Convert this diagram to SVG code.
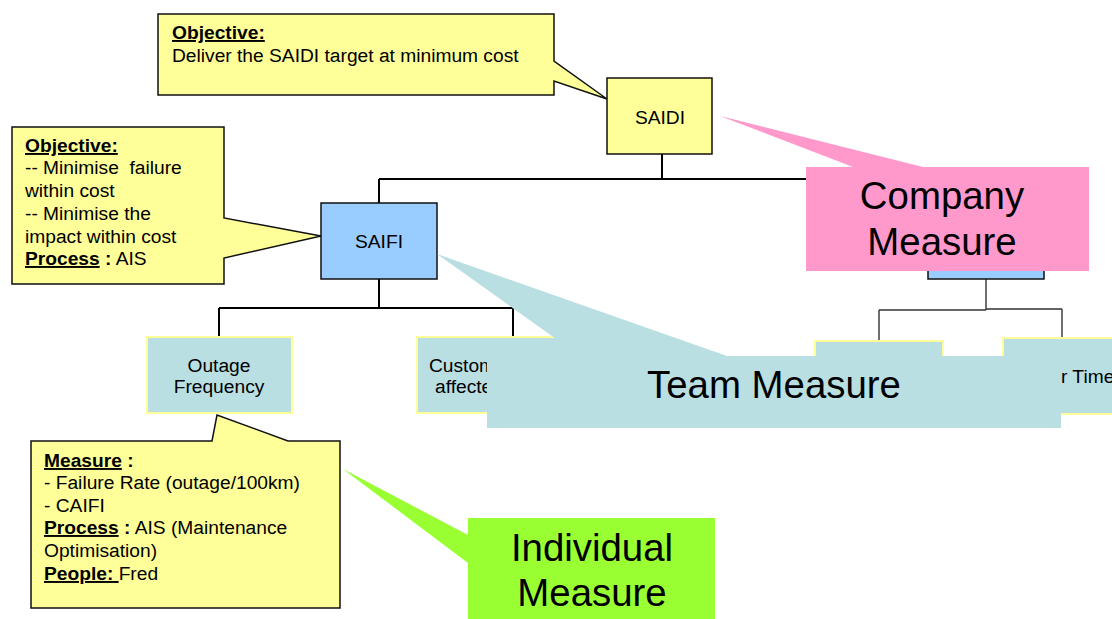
<svg xmlns="http://www.w3.org/2000/svg" width="1112" height="619" viewBox="0 0 1112 619">
<style>
text{font-family:"Liberation Sans",Arial,sans-serif;font-size:19.2px;fill:#000}
.b{font-weight:bold}
.u{text-decoration:underline}
.big{font-size:38.4px}
.conn{fill:none;stroke:#000;stroke-width:2}
.conn2{fill:none;stroke:#333;stroke-width:1.4}
.yel{fill:#FFFF99;stroke:#111;stroke-width:1.5}
.blue{fill:#99CCFF;stroke:#111;stroke-width:1.5}
.cyan{fill:#B9DFE3;stroke:#FFFF99;stroke-width:2}
</style>
<rect width="1112" height="619" fill="#fff"/>
<g id="connectors">
<path class="conn" d="M662,154V179M379,179H986M379,179V203M986,179V203"/>
<path class="conn" d="M379,279V308M219,308H513M219,308V337M513,308V337"/>
<path class="conn2" d="M986,279V310M879,310H986M986,309H1062M879,310V341M1062,309V338"/>
</g>
<g id="node-saidi"><rect class="yel" x="607" y="78" width="105" height="76"/><text x="660" y="124" text-anchor="middle">SAIDI</text></g>
<g id="node-saifi"><rect class="blue" x="321" y="203" width="116" height="76"/><text x="379" y="248" text-anchor="middle">SAIFI</text></g>
<g id="node-right"><rect class="blue" x="928" y="203" width="116" height="76"/></g>
<g id="node-outage"><rect class="cyan" x="147" y="337" width="145" height="76"/><text x="219" y="372" text-anchor="middle">Outage</text><text x="219" y="393" text-anchor="middle">Frequency</text></g>
<g id="node-customer"><rect class="cyan" x="417" y="337" width="192" height="76"/><text x="429" y="372">Custom</text><text x="435" y="393">affecte</text></g>
<g id="node-right-a"><rect class="cyan" x="815" y="341" width="128" height="76"/></g>
<g id="node-right-b"><rect class="cyan" x="1003" y="338" width="130" height="76"/><text x="1061" y="383">r Time</text></g>
<g id="callout-top">
<path class="yel" d="M158,14H554V61L607,99L554,81V95H158Z"/>
<text x="172" y="39" class="b u">Objective:</text>
<text x="172" y="62">Deliver the SAIDI target at minimum cost</text>
</g>
<g id="callout-left">
<path class="yel" d="M12,127H224V218L321,236L224,258V284H12Z"/>
<text x="25" y="152" class="b u">Objective:</text>
<text x="25" y="174" xml:space="preserve">-- Minimise  failure</text>
<text x="25" y="197">within cost</text>
<text x="25" y="220">-- Minimise the</text>
<text x="25" y="243">impact within cost</text>
<text x="25" y="265"><tspan class="b u">Process</tspan><tspan class="b"> :</tspan> AIS</text>
</g>
<g id="callout-bottom">
<path class="yel" d="M31,441H212L217,415L288,441H340V608H31Z"/>
<text x="44" y="467"><tspan class="b u">Measure</tspan><tspan class="b"> :</tspan></text>
<text x="44" y="489">- Failure Rate (outage/100km)</text>
<text x="44" y="512">- CAIFI</text>
<text x="44" y="534"><tspan class="b u">Process</tspan><tspan class="b"> :</tspan> AIS (Maintenance</text>
<text x="44" y="557">Optimisation)</text>
<text x="44" y="580" xml:space="preserve"><tspan class="b u">People: </tspan>Fred</text>
</g>
<g id="label-team">
<path fill="#B9DFE3" d="M437,254L727,356H1061V428H487V356H580Z"/>
<text x="774" y="398" class="big" text-anchor="middle">Team Measure</text>
</g>
<g id="label-company">
<path fill="#FF99CC" d="M720,116L853,167H806V271H1089V167H923Z"/>
<text x="942" y="209" class="big" text-anchor="middle">Company</text>
<text x="942" y="255" class="big" text-anchor="middle">Measure</text>
</g>
<g id="label-individual">
<path fill="#99FF33" d="M343,469L468,535V518H715V622H468V563Z"/>
<text x="592" y="561" class="big" text-anchor="middle">Individual</text>
<text x="592" y="606" class="big" text-anchor="middle">Measure</text>
</g>
</svg>
